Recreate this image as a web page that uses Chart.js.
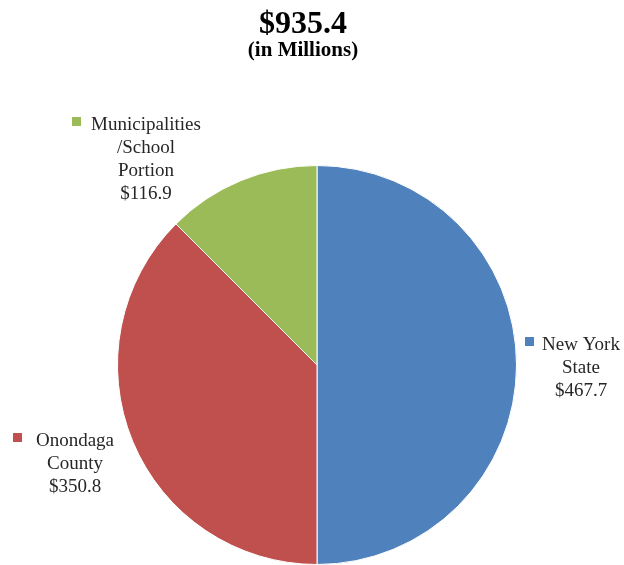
<!DOCTYPE html>
<html lang="en">
<head>
    <meta charset="UTF-8">
    <title>Revenue Share Pie</title>
    <script src="https://cdn.jsdelivr.net/npm/chart.js"></script>
    <style>
        body { margin: 0; background: #fff; }
    </style>
</head>
<body>
    <canvas id="pieChart" width="624" height="565"></canvas>

    <script>
        // data
        const categories = [["New York", "State"], ["Onondaga", "County"], ["Municipalities", "/School", "Portion"]];
        const values = [467.7, 350.8, 116.9];
        const totalLabel = "$935.4";
        const subTitle = "(in Millions)";

        const sliceColors = ["#4F81BD", "#C0504D", "#9BBB59"];
        // where each label block sits: square x/y, text center x, first line y
        const labelSpots = [
            { sq: [525, 337], cx: 581, y0: 345 },
            { sq: [13, 433], cx: 75, y0: 441 },
            { sq: [72, 117], cx: 146, y0: 125 }
        ];

        const textPlugin = {
            id: "pieText",
            afterDraw(chart) {
                const ctx = chart.ctx;
                ctx.save();
                ctx.fillStyle = "#000";
                ctx.textAlign = "center";
                ctx.textBaseline = "alphabetic";
                ctx.font = "bold 32px 'Liberation Serif', serif";
                ctx.fillText(totalLabel, 303, 33);
                ctx.font = "bold 21px 'Liberation Serif', serif";
                ctx.fillText(subTitle, 303, 56);

                ctx.font = "19px 'Liberation Serif', serif";
                ctx.textBaseline = "middle";
                categories.forEach((lines, i) => {
                    const spot = labelSpots[i];
                    ctx.fillStyle = sliceColors[i];
                    ctx.fillRect(spot.sq[0], spot.sq[1], 9, 9);
                    ctx.fillStyle = "#262626";
                    const all = lines.concat(["$" + values[i].toFixed(1)]);
                    all.forEach((t, k) => {
                        ctx.fillText(t, spot.cx, spot.y0 + k * 23);
                    });
                });
                ctx.restore();
            }
        };

        new Chart(document.getElementById("pieChart"), {
            type: "pie",
            data: {
                labels: categories.map(c => c.join(" ")),
                datasets: [{
                    data: values,
                    backgroundColor: sliceColors,
                    borderColor: "#fff",
                    borderWidth: 1
                }]
            },
            options: {
                responsive: false,
                animation: false,
                layout: {
                    padding: { left: 117, right: 107, top: 165, bottom: 0 }
                },
                plugins: {
                    legend: { display: false },
                    tooltip: { enabled: false }
                }
            },
            plugins: [textPlugin]
        });
    </script>
</body>
</html>
